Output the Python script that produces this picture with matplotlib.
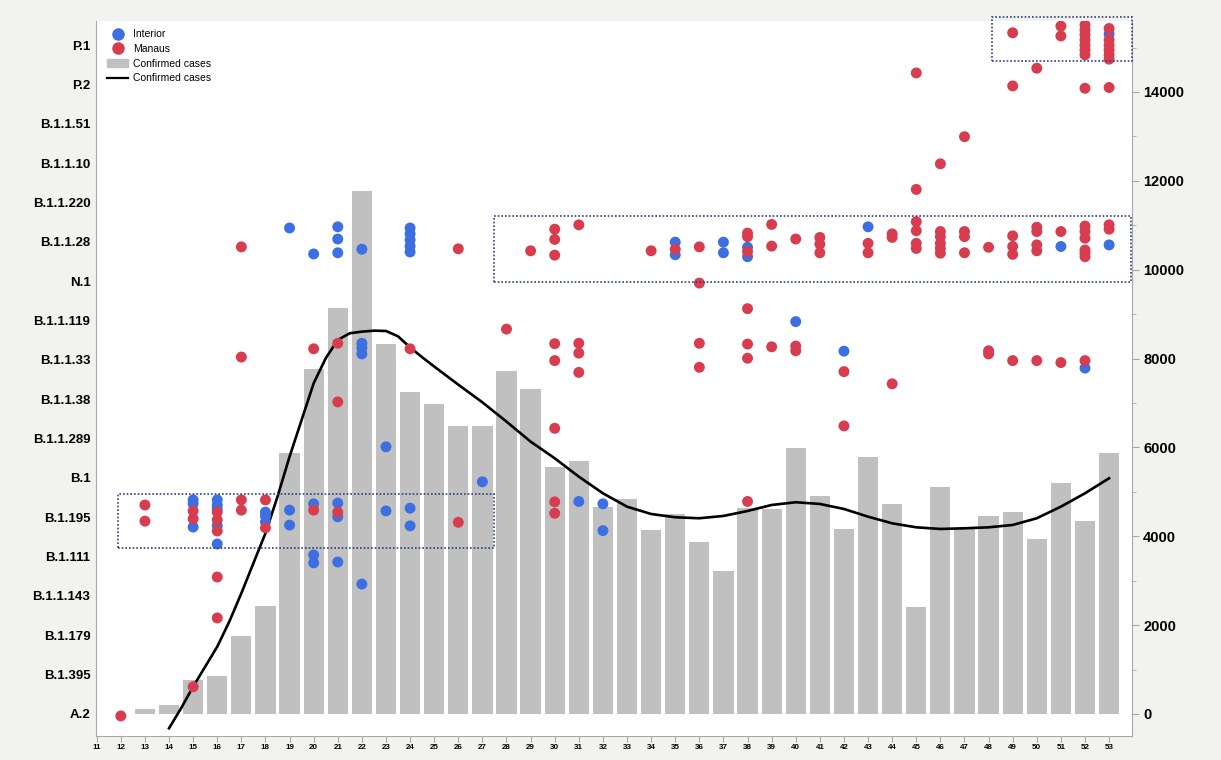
import matplotlib.pyplot as plt
from matplotlib.lines import Line2D
from matplotlib.patches import Patch, Rectangle
from matplotlib.ticker import MultipleLocator

plt.rcParams['font.family'] = ['Liberation Sans', 'DejaVu Sans']

# lineages, bottom to top
lineages = ["A.2", "B.1.395", "B.1.179", "B.1.1.143", "B.1.111", "B.1.195", "B.1",
            "B.1.1.289", "B.1.1.38", "B.1.1.33", "B.1.1.119", "N.1", "B.1.1.28",
            "B.1.1.220", "B.1.1.10", "B.1.1.51", "P.2", "P.1"]

# weekly confirmed cases (bars)
bar_weeks = list(range(13, 54))
bar_cases = [113, 210, 758, 862, 1756, 2438, 5868, 7758, 9131, 11780, 8328, 7240,
             6985, 6490, 6490, 7727, 7308, 5566, 5694, 4666, 4832, 4141, 4501, 3878,
             3219, 4643, 4607, 5975, 4914, 4164, 5791, 4720, 2408, 5102, 4157, 4463,
             4553, 3946, 5192, 4344, 5868]

# smoothed confirmed cases (line)
curve_weeks = [14, 14.5, 15, 15.5, 16, 16.5, 17, 17.5, 18, 18.5, 19, 19.5, 20, 20.5,
               21, 21.5, 22, 22.5, 23, 23.5, 24, 24.5, 25, 26, 27, 28, 29, 30, 31, 32,
               33, 34, 35, 36, 37, 38, 39, 40, 41, 42, 43, 44, 45, 46, 47, 48, 49,
               50, 51, 52, 53]
curve_cases = [-322, 128, 615, 1065, 1515, 2078, 2717, 3392, 4067, 4891, 5791, 6617,
               7443, 8006, 8418, 8569, 8605, 8627, 8620, 8500, 8250, 8030, 7820, 7412,
               7014, 6580, 6130, 5755, 5341, 4967, 4666, 4501, 4427, 4405, 4457, 4569,
               4704, 4765, 4727, 4614, 4441, 4291, 4201, 4164, 4179, 4201, 4254, 4405,
               4666, 4967, 5305]

# sequenced genomes: week and position on the lineage axis
interior_week = [15, 15, 15, 16, 16, 16, 16, 16, 18, 18, 18, 19, 19, 19,
                 20, 20, 20, 20, 21, 21, 21, 21, 21, 21, 22, 22, 22, 22, 22,
                 23, 23, 24, 24, 24, 24, 24, 24, 24, 27, 31, 32, 32, 35, 35,
                 37, 37, 38, 38, 40, 42, 43, 51, 52, 53, 53]
interior_pos = [5.44, 5.34, 4.75, 5.44, 5.31, 5.21, 4.78, 4.32, 5.13, 5.03, 4.88,
                12.35, 5.18, 4.80, 11.69, 5.34, 4.04, 3.84, 12.38, 12.07, 11.72,
                5.36, 5.01, 3.86, 11.81, 9.42, 9.30, 9.15, 3.30, 6.79, 5.16,
                12.35, 12.20, 12.05, 11.89, 11.74, 5.23, 4.78, 5.90, 5.40, 5.34,
                4.66, 11.99, 11.67, 11.99, 11.72, 11.86, 11.62, 9.97, 9.22, 12.38,
                11.88, 8.79, 11.92, 17.28]

manaus_week = [12, 13, 13, 15, 15, 15, 16, 16, 16, 16, 16, 17, 17, 17, 17, 18, 18,
               20, 20, 21, 21, 21, 24, 26, 26, 28, 29,
               30, 30, 30, 30, 30, 30, 30, 30, 31, 31, 31, 31, 34, 35,
               36, 36, 36, 36, 38, 38, 38, 38, 38, 38, 38, 39, 39, 39,
               40, 40, 40, 41, 41, 41, 42, 42, 43, 43, 44, 44, 44,
               45, 45, 45, 45, 45, 45, 46, 46, 46, 46, 46, 46, 47, 47, 47, 47,
               48, 48, 48, 49, 49, 49, 49, 49, 49, 50, 50, 50, 50, 50, 50,
               51, 51, 51, 51] + [52] * 15 + [53] * 9
manaus_pos = [-0.05, 5.31, 4.90, 5.16, 4.96, 0.69, 5.13, 4.93, 4.65, 3.48, 2.44,
              11.87, 9.07, 5.44, 5.18, 5.44, 4.73, 9.28, 5.18, 9.42, 7.93, 5.13,
              9.28, 11.82, 4.87, 9.78, 11.77,
              12.32, 12.06, 11.66, 9.41, 8.98, 7.26, 5.39, 5.10, 12.43, 9.42, 9.17,
              8.68, 11.77, 11.81, 11.87, 10.95, 9.42, 8.81,
              12.22, 12.13, 11.75, 10.30, 9.40, 9.04, 5.40, 12.44, 11.89, 9.33,
              12.07, 9.35, 9.23, 12.11, 11.94, 11.72, 8.70, 7.32, 11.96, 11.72,
              12.20, 12.11, 8.39,
              16.29, 13.33, 12.51, 12.28, 11.96, 11.83,
              13.98, 12.26, 12.13, 11.96, 11.83, 11.71,
              14.67, 12.26, 12.13, 11.72,
              11.86, 9.23, 9.15,
              17.31, 15.96, 12.15, 11.88, 11.68, 8.98,
              16.41, 12.37, 12.26, 11.92, 11.77, 8.98,
              17.48, 17.23, 12.26, 8.93,
              17.51, 17.38, 17.26, 17.13, 17.00, 16.87, 16.75, 15.90, 12.40, 12.26,
              12.09, 11.79, 11.71, 11.62, 8.98,
              17.42, 17.13, 17.00, 16.87, 16.75, 16.64, 15.92, 12.43, 12.32]

# highlighted regions: (week from, week to, lineage pos from, lineage pos to)
boxes = [(11.87, 27.5, 4.22, 5.59), (27.5, 53.91, 10.98, 12.66), (48.15, 53.95, 16.59, 17.71)]

blue = "#3b6fe2"
red = "#d83d4f"
grey_spine = "#a8a8a8"

fig = plt.figure(figsize=(12.21, 7.6), dpi=100, facecolor="#f2f2ee")
ax = fig.add_axes([96 / 1221, 1 - 736 / 760, (1132 - 96) / 1221, (736 - 21) / 760])
ax2 = ax.twinx()

# cases on the right-hand axis
ax.bar(bar_weeks, bar_cases, width=0.84, color="#c0c0c0", zorder=1)
ax.plot(curve_weeks, curve_cases, color="black", lw=1.9, zorder=2)
ax.set_xlim(10.97, 53.95)
ax.set_ylim(-496, 15597)
ax.yaxis.tick_right()
ax.yaxis.set_label_position("right")
ax.set_yticks(range(0, 14001, 2000))
ax.yaxis.set_minor_locator(MultipleLocator(1000))
ax.tick_params(axis="y", which="major", labelsize=10.5, length=5, color=grey_spine, pad=3)
ax.tick_params(axis="y", which="minor", length=3, color=grey_spine)
for lbl in ax.get_yticklabels():
    lbl.set_fontweight("bold")
ax.set_xticks(range(11, 54))
ax.tick_params(axis="x", labelsize=5.8, length=4, color=grey_spine, pad=2)
for lbl in ax.get_xticklabels():
    lbl.set_fontweight("bold")
ax.spines["top"].set_visible(False)
for s in ["left", "right", "bottom"]:
    ax.spines[s].set_color(grey_spine)

# lineages on the left-hand axis
ax2.yaxis.tick_left()
ax2.yaxis.set_label_position("left")
ax2.set_ylim(-0.56, 17.61)
ax2.set_yticks(range(len(lineages)))
ax2.set_yticklabels(lineages, fontsize=9.5, fontweight="bold")
ax2.tick_params(axis="y", length=0, pad=4)
for s in ax2.spines.values():
    s.set_visible(False)

ax2.scatter(interior_week, interior_pos, s=62, color=blue, edgecolors="none", zorder=3)
ax2.scatter(manaus_week, manaus_pos, s=62, color=red, edgecolors="none", zorder=3)

for x0, x1, y0, y1 in boxes:
    ax2.add_patch(Rectangle((x0, y0), x1 - x0, y1 - y0, fill=False, ec="#2b3f86",
                            lw=1.2, ls=(0, (1, 1.2)), clip_on=False, zorder=4))

handles = [
    Line2D([], [], marker="o", ls="none", color=blue, markersize=8, label="Interior"),
    Line2D([], [], marker="o", ls="none", color=red, markersize=8, label="Manaus"),
    Patch(color="#c0c0c0", label="Confirmed cases"),
    Line2D([], [], color="black", lw=1.6, label="Confirmed cases"),
]
ax2.legend(handles=handles, loc="upper left", bbox_to_anchor=(0.003, 1.0), frameon=False,
           fontsize=7.5, handlelength=2.0, handletextpad=0.5, labelspacing=0.45,
           borderaxespad=0.4)

fig.savefig("out.png", dpi=100, facecolor=fig.get_facecolor())
